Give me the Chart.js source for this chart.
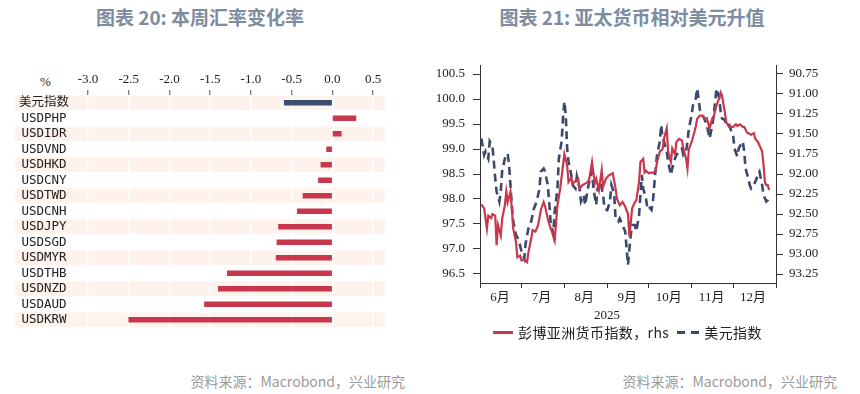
<!DOCTYPE html>
<html>
<head>
<meta charset="utf-8">
<script src="https://cdn.jsdelivr.net/npm/chart.js@4.4.1/dist/chart.umd.min.js"></script>
<style>
  body { margin: 0; width: 860px; height: 394px; background: #fff; position: relative; overflow: hidden;
         font-family: 'Noto Sans CJK SC', sans-serif; }
  .title { position: absolute; top: 7px; width: 400px; text-align: center; font-size: 19px; line-height: 20px;
           font-weight: bold; color: #7d8ca0; }
  .source { position: absolute; top: 373px; font-size: 14px; line-height: 16px; color: #9a9a9a; text-align: right; width: 300px; }
  .box { position: absolute; }
  #pct { position: absolute; left: 40px; top: 74px; font: 13px 'Liberation Serif', serif; color: #222; }
  #year { position: absolute; left: 587px; top: 307px; width: 40px; text-align: center; font: 13px 'Liberation Serif', serif; color: #222; }
  #legend { position: absolute; left: 493px; top: 323px; display: flex; align-items: center; font-size: 14px;
            line-height: 18px; color: #222; letter-spacing: 0.4px; }
  .sw { display: inline-block; height: 3px; margin-right: 5px; }
  .solid { width: 20px; background: #c8374c; }
  .dash { width: 22px; margin-left: 8px; background: repeating-linear-gradient(90deg, #3b4a6b 0 8px, transparent 8px 14px); }
</style>
</head>
<body>
<div class="title" style="left:0">图表 20: 本周汇率变化率</div>
<div class="title" style="left:432px">图表 21: 亚太货币相对美元升值</div>

<div id="pct">%</div>
<div class="box" style="left:0;top:60px"><canvas id="barChart" width="420" height="279"></canvas></div>

<div class="box" style="left:420px;top:40px"><canvas id="lineChart" width="440" height="275"></canvas></div>
<div id="year">2025</div>
<div id="legend"><span class="sw solid"></span><span>彭博亚洲货币指数，rhs</span><span class="sw dash"></span><span>美元指数</span></div>

<div class="source" style="left:105px">资料来源：Macrobond，兴业研究</div>
<div class="source" style="left:537px">资料来源：Macrobond，兴业研究</div>

<script>
// 图表 20: weekly change, %
const pairs = ['美元指数', 'USDPHP', 'USDIDR', 'USDVND', 'USDHKD', 'USDCNY', 'USDTWD', 'USDCNH',
               'USDJPY', 'USDSGD', 'USDMYR', 'USDTHB', 'USDNZD', 'USDAUD', 'USDKRW'];
const weeklyChange = [-0.59, 0.29, 0.11, -0.07, -0.14, -0.17, -0.36, -0.43,
                      -0.66, -0.68, -0.69, -1.29, -1.40, -1.57, -2.50];
const changeTicks = [-3.0, -2.5, -2.0, -1.5, -1.0, -0.5, 0.0, 0.5];

// 图表 21: days counted from 1 Jun 2025
const monthStarts = [0, 30, 61, 92, 122, 153, 183, 214];
const monthLabels = ['6月', '7月', '8月', '9月', '10月', '11月', '12月', ''];
const dxyTicks = [96.5, 97.0, 97.5, 98.0, 98.5, 99.0, 99.5, 100.0, 100.5];
const asiaTicks = [90.75, 91.0, 91.25, 91.5, 91.75, 92.0, 92.25, 92.5, 92.75, 93.0, 93.25];

const asiaDays = [1,3,5,6,8,9,11,12,13,15,16,18,19,20,22,23,24,26,27,29,30,32,34,35,37,38,40,42,44,46,
  47,49,51,52,54,56,58,61,63,64,66,67,69,71,72,74,76,78,79,81,83,84,86,88,89,91,93,95,96,98,
  99,101,103,105,107,108,110,112,113,115,116,118,119,120,122,124,125,127,128,130,132,133,135,136,138,139,141,142,144,146,
  147,149,150,151,153,154,156,157,159,161,162,164,166,168,169,171,173,174,175,177,178,180,181,183,185,186,188,190,191,193,
  194,196,198,199,201,202,204,205,206,207,208,209];
const asiaIndex = [92.38,92.43,92.68,92.52,92.55,92.50,92.52,92.89,92.64,92.77,92.56,92.39,92.22,92.35,92.22,92.43,92.68,92.85,93.04,93.02,
  93.08,93.07,93.10,92.98,92.81,92.70,92.72,92.64,92.45,92.35,92.40,92.56,92.68,92.72,92.83,92.39,92.18,91.75,91.89,92.10,
  92.05,92.12,92.09,92.06,92.18,92.14,92.12,92.10,92.06,91.85,92.12,92.06,92.20,91.95,92.16,92.06,92.02,92.00,91.99,92.18,
  92.31,92.39,92.35,92.41,92.50,92.78,92.43,92.35,92.33,92.10,91.85,91.81,91.98,91.96,91.99,91.98,91.99,91.96,91.85,91.72,
  91.69,91.56,91.43,91.72,91.85,91.68,91.75,91.60,91.56,91.58,91.68,91.81,91.93,91.69,91.60,91.54,91.41,91.31,91.27,91.27,
  91.31,91.30,91.43,91.30,91.28,91.14,91.05,90.98,91.02,91.23,91.35,91.41,91.41,91.41,91.38,91.40,91.38,91.41,91.41,91.48,
  91.49,91.51,91.49,91.56,91.60,91.64,91.72,91.89,92.10,92.14,92.14,92.20];

const dxyDays = [1,3,4,6,7,9,10,11,12,14,15,16,18,20,21,22,23,24,26,28,30,32,33,35,37,39,41,43,44,46,
  47,49,50,51,53,54,56,57,59,60,61,62,63,64,66,67,69,70,72,73,75,76,78,79,81,82,84,85,87,89,
  90,92,94,95,97,98,100,101,103,105,106,107,108,109,110,112,113,115,116,117,118,120,121,122,124,125,126,127,128,130,
  131,132,133,135,136,138,139,141,142,144,146,147,149,150,151,153,154,156,157,158,159,161,163,164,166,168,169,170,171,173,
  174,175,177,178,180,181,183,184,186,187,189,190,191,192,194,195,196,198,200,201,202,204,205,207,208,209];
const dxyIndex = [99.21,98.88,98.95,98.81,99.15,99.05,98.75,98.41,98.15,97.95,98.15,98.55,98.81,98.91,98.68,98.28,97.88,97.55,97.28,97.18,
  96.95,96.81,97.11,97.41,97.55,97.81,97.95,98.21,98.55,98.61,98.55,98.28,97.95,97.55,97.30,97.75,98.21,98.81,99.15,99.61,
  99.95,99.68,99.01,98.75,98.48,98.28,98.21,98.45,98.21,97.95,98.08,97.88,98.21,98.35,98.55,98.21,97.88,98.21,98.35,98.08,
  97.81,97.78,97.95,98.28,98.11,97.61,97.55,97.61,97.48,97.35,97.01,96.68,97.00,97.28,97.48,97.48,97.35,97.68,98.08,98.48,
  98.21,98.01,97.81,97.85,97.78,97.95,98.28,98.61,98.88,99.15,99.48,99.21,99.15,98.95,98.75,98.48,98.61,98.81,98.88,98.95,
  99.01,98.88,98.95,99.15,99.41,99.68,99.88,100.01,100.21,100.01,99.78,99.68,99.55,99.48,99.21,99.48,99.68,99.95,100.21,100.01,
  99.75,99.61,99.58,99.48,99.51,99.41,99.28,99.01,98.85,99.01,99.11,99.15,98.95,98.61,98.41,98.28,98.21,98.28,98.41,98.51,
  98.55,98.28,98.08,97.95,97.98,98.08];

const RED = '#c8374c';
const NAVY = '#3d4f6e';
const serif = "'Liberation Serif', 'Noto Sans CJK SC', serif";

// alternating row bands behind the bars
const rowStripes = {
  id: 'rowStripes',
  beforeDraw(chart) {
    const { ctx, chartArea, scales } = chart;
    const band = (chartArea.bottom - chartArea.top) / pairs.length;
    ctx.save();
    ctx.fillStyle = '#fdf2ec';
    pairs.forEach((p, i) => {
      if (i % 2 === 0) {
        const yc = scales.y.getPixelForValue(i);
        ctx.fillRect(chartArea.left, yc - band / 2 + 0.5, chartArea.right - chartArea.left, band - 1);
      }
    });
    ctx.restore();
  }
};

new Chart(document.getElementById('barChart'), {
  type: 'bar',
  data: {
    labels: pairs,
    datasets: [{
      data: weeklyChange,
      backgroundColor: weeklyChange.map((v, i) => i === 0 ? NAVY : RED),
      barThickness: 5,
      borderWidth: 0
    }]
  },
  options: {
    indexAxis: 'y',
    responsive: false,
    animation: false,
    layout: { padding: { right: 35 } },
    plugins: { legend: { display: false }, tooltip: { enabled: false } },
    scales: {
      x: {
        position: 'top',
        min: -3.897,
        max: 0.647,
        afterBuildTicks: (s) => { s.ticks = changeTicks.map(v => ({ value: v })); },
        afterFit: (s) => { s.height = 35; },
        grid: { color: '#ffffff', lineWidth: 1.5, tickLength: 5, tickColor: '#555', tickWidth: 1 },
        border: { display: false },
        ticks: { padding: 3, color: '#222', font: { family: serif, size: 13 }, callback: (v) => v.toFixed(1) }
      },
      y: {
        afterFit: (s) => { s.width = 15; },
        grid: { display: false, drawTicks: false },
        border: { display: false },
        ticks: { mirror: true, crossAlign: 'center', padding: 4, autoSkip: false, color: '#222',
                 font: { family: "'DejaVu Sans Mono', 'Noto Sans CJK SC', monospace", size: 12.5 } }
      }
    }
  },
  plugins: [rowStripes]
});

new Chart(document.getElementById('lineChart'), {
  type: 'line',
  data: {
    datasets: [
      {
        label: '彭博亚洲货币指数，rhs',
        data: asiaDays.map((d, i) => ({ x: d, y: asiaIndex[i] })),
        yAxisID: 'y2',
        borderColor: RED,
        borderWidth: 2.2
      },
      {
        label: '美元指数',
        data: dxyDays.map((d, i) => ({ x: d, y: dxyIndex[i] })),
        yAxisID: 'y',
        borderColor: '#3b4a6b',
        borderWidth: 2.6,
        borderDash: [8, 5]
      }
    ]
  },
  options: {
    responsive: false,
    animation: false,
    elements: { point: { radius: 0 }, line: { tension: 0 } },
    layout: { padding: { top: 25 } },
    plugins: { legend: { display: false }, tooltip: { enabled: false } },
    scales: {
      x: {
        type: 'linear',
        min: 0,
        max: 214,
        afterBuildTicks: (s) => { s.ticks = monthStarts.map(v => ({ value: v })); },
        afterFit: (s) => { s.height = 32; },
        grid: { drawOnChartArea: false, tickLength: 5, tickColor: '#333' },
        border: { color: '#333' },
        ticks: { autoSkip: false, maxRotation: 0, labelOffset: 20, padding: 2, color: '#222',
                 font: { family: serif, size: 13 }, callback: (v, i) => monthLabels[i] }
      },
      y: {
        position: 'left',
        min: 96.32,
        max: 100.68,
        afterBuildTicks: (s) => { s.ticks = dxyTicks.map(v => ({ value: v })); },
        afterFit: (s) => { s.width = 60; },
        grid: { drawOnChartArea: false, tickLength: 7, tickColor: '#333' },
        border: { color: '#333' },
        ticks: { padding: 8, color: '#222', font: { family: serif, size: 13 }, callback: (v) => v.toFixed(1) }
      },
      y2: {
        position: 'right',
        reverse: true,
        min: 90.6375,
        max: 93.3625,
        afterBuildTicks: (s) => { s.ticks = asiaTicks.map(v => ({ value: v })); },
        afterFit: (s) => { s.width = 84; },
        grid: { drawOnChartArea: false, tickLength: 7, tickColor: '#333' },
        border: { color: '#333' },
        ticks: { padding: 6, color: '#222', font: { family: serif, size: 13 }, callback: (v) => v.toFixed(2) }
      }
    }
  }
});
</script>
</body>
</html>
